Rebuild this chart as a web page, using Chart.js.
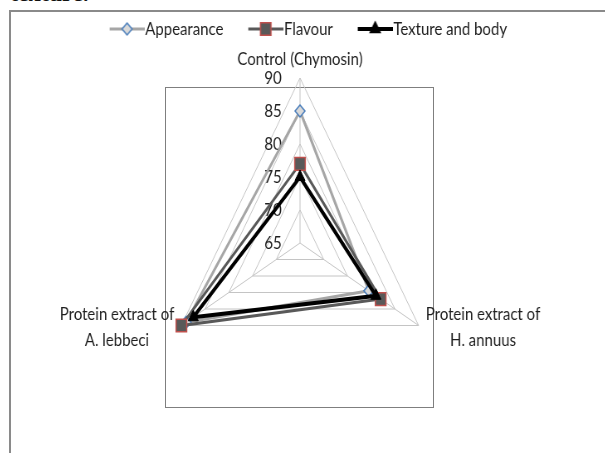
<!DOCTYPE html>
<html>
<head>
<meta charset="utf-8">
<script src="https://cdn.jsdelivr.net/npm/chart.js@4/dist/chart.umd.min.js"></script>
<style>
  html, body { margin: 0; padding: 0; background: #fff; }
  body { width: 605px; height: 453px; position: relative; overflow: hidden; }
  .page-text { position: absolute; left: 10px; top: -19px; font: bold 24px/24px "Liberation Serif", serif; color: #111; }
  .frame { position: absolute; left: 9px; top: 10px; width: 700px; height: 500px; border-top: 2px solid #8a8a8a; border-left: 2px solid #8a8a8a; }
  .plot-box { position: absolute; left: 165px; top: 87px; width: 267px; height: 319px; border: 1.5px solid #7f7f7f; }
  /* the source picture is squeezed sideways, so the whole chart is too */
  .wrap { position: absolute; left: 0; top: 0; width: 600px; height: 453px; transform: scaleX(0.83); transform-origin: 300px 0; }
</style>
</head>
<body>
<div class="page-text">texture.</div>
<div class="frame"></div>
<div class="plot-box"></div>
<div class="wrap"><canvas id="radarChart"></canvas></div>
<script>
const categories = ['Control (Chymosin)', ['Protein extract of', 'H. annuus'], ['Protein extract of', 'A. lebbeci']];
const seriesNames = ['Appearance', 'Flavour', 'Texture and body'];
const appearance = [85, 79.5, 89];
const flavour = [77, 82, 90];
const texture = [75, 81, 87.5];
const tickMin = 65;
const tickMax = 90;
const tickStep = 5;

const FONT = '18px Lato';
const TEXT = '#1e1e1e';

// excel style legend swatch: a short line with the marker in the middle
function swatch(line, lineWidth, style, radius, fill, border) {
  const c = document.createElement('canvas');
  c.width = 70;
  c.height = 18;
  const g = c.getContext('2d');
  g.strokeStyle = line;
  g.lineWidth = lineWidth;
  g.beginPath();
  g.moveTo(28, 9);
  g.lineTo(70, 9);
  g.stroke();
  g.fillStyle = fill;
  g.strokeStyle = border;
  g.lineWidth = 1.5;
  g.beginPath();
  if (style === 'rectRot') {
    g.moveTo(49, 9 - radius); g.lineTo(49 + radius, 9); g.lineTo(49, 9 + radius); g.lineTo(49 - radius, 9);
  } else if (style === 'rect') {
    const s = radius * Math.SQRT1_2;
    g.rect(49 - s, 9 - s, 2 * s, 2 * s);
  } else {
    g.moveTo(49, 9 - radius); g.lineTo(49 + radius * 0.87, 9 + radius / 2); g.lineTo(49 - radius * 0.87, 9 + radius / 2);
  }
  g.closePath();
  g.fill();
  g.stroke();
  return c;
}

const radarText = {
  id: 'radarText',
  beforeInit(chart) {
    // leave a gap between legend and plot
    const fit = chart.legend.fit;
    chart.legend.fit = function () {
      fit.bind(chart.legend)();
      this.height += 30;
    };
  },
  beforeDatasetsDraw(chart) {
    const ctx = chart.ctx;
    const r = chart.scales.r;
    ctx.save();
    ctx.font = FONT;
    ctx.fillStyle = TEXT;
    ctx.textBaseline = 'middle';
    ctx.textAlign = 'right';
    r.ticks.forEach(t => {
      const d = r.getDistanceFromCenterForValue(t.value);
      ctx.fillText(String(t.value), r.xCenter - 22, r.yCenter - d);
    });
    ctx.textAlign = 'center';
    categories.forEach((lab, i) => {
      const p = r.getPointPosition(i, r.drawingArea + (i === 0 ? 19 : 10));
      const lines = [].concat(lab);
      const w = Math.max(...lines.map(l => ctx.measureText(l).width));
      let cx = p.x;
      if (p.x > r.xCenter + 1) cx = p.x + w / 2;
      else if (p.x < r.xCenter - 1) cx = p.x - w / 2;
      const y0 = (i === 0 ? p.y : p.y - 3) - (lines.length - 1) * 13;
      lines.forEach((l, k) => ctx.fillText(l, cx, y0 + k * 26));
    });
    ctx.restore();
  }
};

document.addEventListener('DOMContentLoaded', function () {
  const swatches = [
    swatch('#a6a6a6', 3, 'rectRot', 6, '#d9d9d9', '#4a7ebb'),
    swatch('#595959', 3, 'rect', 9, '#595959', '#c0504d'),
    swatch('#000000', 4, 'triangle', 7, '#000000', '#000000')
  ];
  const ctx = document.getElementById('radarChart').getContext('2d');
  new Chart(ctx, {
    type: 'radar',
    data: {
      labels: categories,
      datasets: [{
        label: seriesNames[0],
        data: appearance,
        borderColor: '#a6a6a6',
        borderWidth: 3,
        pointStyle: 'rectRot',
        pointRadius: 6,
        pointBackgroundColor: '#d9d9d9',
        pointBorderColor: '#4a7ebb',
        pointBorderWidth: 1.5,
        fill: false,
        order: 2
      }, {
        label: seriesNames[1],
        data: flavour,
        borderColor: '#595959',
        borderWidth: 3,
        pointStyle: 'rect',
        pointRadius: 9,
        pointBackgroundColor: '#595959',
        pointBorderColor: '#c0504d',
        pointBorderWidth: 1.5,
        fill: false,
        order: 1
      }, {
        label: seriesNames[2],
        data: texture,
        borderColor: '#000000',
        borderWidth: 4,
        pointStyle: 'triangle',
        pointRadius: 7,
        pointBackgroundColor: '#000000',
        pointBorderColor: '#000000',
        pointBorderWidth: 1,
        fill: false,
        order: 0
      }]
    },
    options: {
      responsive: true,
      maintainAspectRatio: false,
      animation: false,
      layout: { padding: { top: 10, bottom: 45, left: 0, right: 0 } },
      plugins: {
        tooltip: { enabled: false },
        legend: {
          position: 'top',
          labels: {
            usePointStyle: true,
            pointStyleWidth: 54,
            padding: 10,
            color: TEXT,
            font: { family: 'Lato', size: 18 },
            generateLabels: () => seriesNames.map((name, i) => ({
              text: name,
              pointStyle: swatches[i],
              fillStyle: 'transparent',
              strokeStyle: 'transparent',
              lineWidth: 0,
              hidden: false,
              datasetIndex: i,
              fontColor: TEXT
            }))
          }
        }
      },
      scales: {
        r: {
          min: tickMin,
          max: tickMax,
          ticks: { stepSize: tickStep, display: false },
          pointLabels: { display: false },
          grid: { color: '#c4c4c4', lineWidth: 1 },
          angleLines: { color: '#c4c4c4', lineWidth: 1 }
        }
      }
    },
    plugins: [radarText]
  });
});
</script>
</body>
</html>
